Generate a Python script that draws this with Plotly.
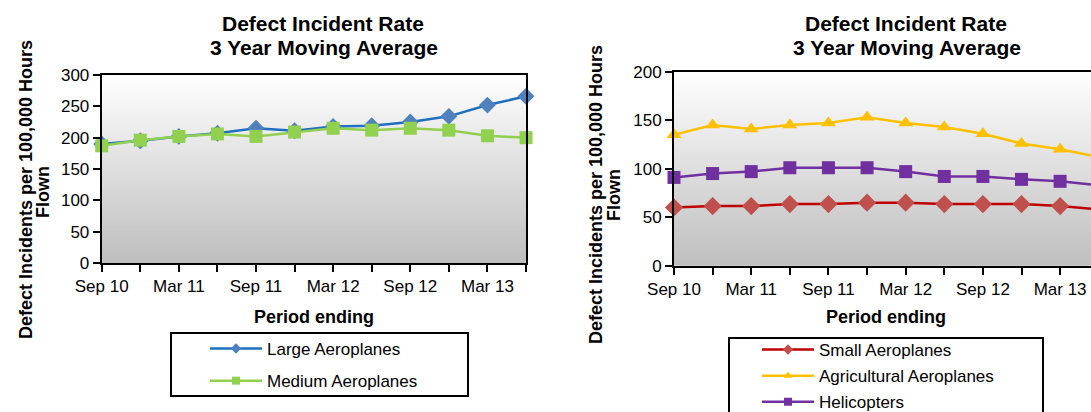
import plotly.graph_objects as go

# ---------------- data ----------------
periods = ["Sep 10", "Dec 10", "Mar 11", "Jun 11", "Sep 11", "Dec 11",
           "Mar 12", "Jun 12", "Sep 12", "Dec 12", "Mar 13", "Jun 13"]
tick_labels = ["Sep 10", "", "Mar 11", "", "Sep 11", "", "Mar 12", "",
               "Sep 12", "", "Mar 13", ""]
large = [190, 195, 202, 207, 215, 211, 218, 219, 225, 234, 252, 266]
medium = [187, 196, 202, 206, 202, 209, 215, 212, 215, 212, 203, 200]
small = [60, 61.5, 61.5, 63.5, 63.5, 65, 65, 63.5, 63.5, 63.5, 61.5, 58]
agricultural = [135, 145, 141, 145, 147, 153, 147, 143, 136, 126, 120, 112]
helicopters = [91, 95, 97, 101, 101, 101, 97, 92, 92, 89, 87, 83]

W, H = 1091, 412
FONT = "Liberation Sans, Arial, sans-serif"


def px(x):
    return x / W


def py(y):
    return 1 - y / H


fig = go.Figure()

series = [
    # name, values, line colour, marker colour, symbol, size, axes, legend
    ("Large Aeroplanes", large, "#1F6FC0", "#4F81BD", "diamond", 13, ("x", "y"), "legend"),
    ("Medium Aeroplanes", medium, "#92D050", "#92D050", "square", 13, ("x", "y"), "legend"),
    ("Small Aeroplanes", small, "#C00000", "#C0504D", "diamond", 14, ("x2", "y2"), "legend2"),
    ("Agricultural Aeroplanes", agricultural, "#FFC000", "#FFC000", "triangle-up", 13, ("x2", "y2"), "legend2"),
    ("Helicopters", helicopters, "#7030A0", "#7030A0", "square", 13, ("x2", "y2"), "legend2"),
]

for name, vals, lc, mc, sym, size, (xa, ya), leg in series:
    fig.add_trace(go.Scatter(
        x=periods, y=vals, xaxis=xa, yaxis=ya, mode="lines+markers",
        line=dict(color=lc, width=2.5),
        marker=dict(color=mc, symbol=sym, size=size, line=dict(width=0)),
        cliponaxis=False, showlegend=False, name=name))
    # legend-only entry with smaller marker like the original
    fig.add_trace(go.Scatter(
        x=[None], y=[None], xaxis=xa, yaxis=ya, mode="lines+markers",
        line=dict(color=lc, width=2.5),
        marker=dict(color=mc, symbol=sym, size=8, line=dict(width=0)),
        name=name, legend=leg, legendgroup=name, showlegend=True))

axis_common = dict(
    showline=True, linecolor="black", linewidth=2,
    ticks="outside", ticklen=7, tickwidth=2, tickcolor="black",
    showgrid=False, zeroline=False, automargin=False,
    tickfont=dict(family=FONT, size=17, color="black"),
)

fig.update_layout(
    width=W, height=H,
    margin=dict(l=0, r=0, t=0, b=0, autoexpand=False),
    paper_bgcolor="white", plot_bgcolor="rgba(0,0,0,0)",
    font=dict(family=FONT, color="black"),
    xaxis=dict(domain=[px(101.7), px(526)], range=[0, 11], type="category",
               tickvals=periods, ticktext=tick_labels, mirror=True, anchor="y",
               **axis_common),
    yaxis=dict(domain=[py(263), py(75)], range=[0, 300], dtick=50, mirror=True,
               anchor="x", **axis_common),
    xaxis2=dict(domain=[px(674), 1.0], range=[0, 10.8], type="category",
                tickvals=periods, ticktext=tick_labels, mirror=True, anchor="y2",
                **axis_common),
    yaxis2=dict(domain=[py(265.7), py(71.7)], range=[0, 200], dtick=50,
                mirror=False, anchor="x2", **axis_common),
    legend=dict(x=px(205), y=py(331), xanchor="left", yanchor="top",
                bgcolor="rgba(0,0,0,0)", borderwidth=0, itemwidth=52,
                font=dict(family=FONT, size=17, color="black"),
                tracegroupgap=7, itemsizing="trace"),
    legend2=dict(x=px(757), y=py(332), xanchor="left", yanchor="top",
                 bgcolor="rgba(0,0,0,0)", borderwidth=0, itemwidth=52,
                 font=dict(family=FONT, size=17, color="black"),
                 tracegroupgap=1, itemsizing="trace"),
)

# gradient plot backgrounds
shapes = []
N = 60
top = (255, 255, 255)
bot = (190, 190, 190)
for xr, yr in (("x domain", "y domain"), ("x2 domain", "y2 domain")):
    for i in range(N):
        t = (i + 0.5) / N  # 0 at bottom
        c = tuple(round(bot[k] + (top[k] - bot[k]) * t) for k in range(3))
        shapes.append(dict(type="rect", xref=xr, yref=yr, x0=0, x1=1,
                           y0=i / N, y1=min(1, (i + 1) / N + 0.004),
                           fillcolor="rgb(%d,%d,%d)" % c, line=dict(width=0),
                           layer="below"))

# legend boxes
shapes.append(dict(type="rect", xref="paper", yref="paper",
                   x0=px(171), x1=px(468), y0=py(396), y1=py(333),
                   line=dict(color="black", width=2), fillcolor="rgba(0,0,0,0)"))
shapes.append(dict(type="rect", xref="paper", yref="paper",
                   x0=px(729), x1=px(1043), y0=py(425), y1=py(338),
                   line=dict(color="black", width=2), fillcolor="rgba(0,0,0,0)"))
fig.update_layout(shapes=shapes)

ann = []


def text(x, y, s, size, bold=True, angle=0):
    ann.append(dict(x=px(x), y=py(y), xref="paper", yref="paper",
                    text=("<b>%s</b>" % s) if bold else s, showarrow=False,
                    textangle=angle, xanchor="center", yanchor="middle",
                    font=dict(family=FONT, size=size, color="black")))


# chart titles
text(323, 24, "Defect Incident Rate", 21)
text(324, 47, "3 Year Moving Average", 21)
text(906, 24, "Defect Incident Rate", 21)
text(907, 47, "3 Year Moving Average", 21)
# axis titles
text(314, 317, "Period ending", 18)
text(886, 317, "Period ending", 18)
text(26, 190, "Defect Incidents per 100,000 Hours", 18, angle=-90)
text(43, 192, "Flown", 18, angle=-90)
text(596, 195, "Defect Incidents per 100,000 Hours", 18, angle=-90)
text(614, 195, "Flown", 18, angle=-90)
fig.update_layout(annotations=ann)

fig.write_html(
    "out.html",
    config={"displayModeBar": False},
    post_script="document.body.style.margin='0px';document.body.style.overflow='hidden';",
)
